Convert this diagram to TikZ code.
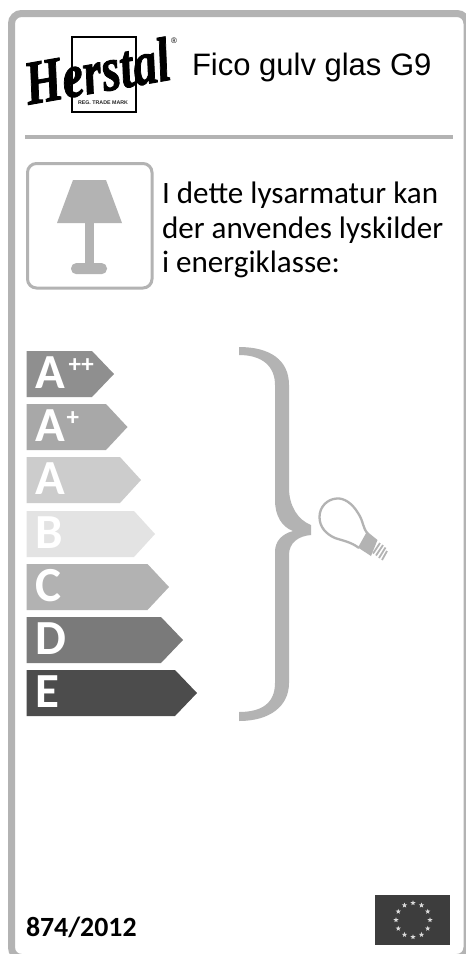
\documentclass[tikz,border=0pt]{standalone}
\usepackage{fontspec}
\usetikzlibrary{shapes.geometric}
\newfontfamily\carl{Carlito}
\newfontfamily\arl{Liberation Sans}
\newfontfamily\logof[FakeBold=1.5]{Liberation Serif}
\definecolor{frameg}{HTML}{B3B3B3}
\tikzset{
 px/.style={x=1pt,y=-1pt},
 greystroke/.style={draw=frameg},
 tag/.style={anchor=base west,inner sep=0pt,outer sep=0pt},
 bodytext/.style={tag,font=\carl\fontsize{31.1}{34}\selectfont,text=black},
 letter/.style={tag,font=\carl\bfseries\fontsize{49}{49}\selectfont,text=white},
 supers/.style={tag,font=\carl\bfseries\fontsize{25}{25}\selectfont,text=white},
 euflagstar/.style={star,star points=5,star point ratio=2.4,fill=black!14,draw=none,inner sep=0pt,minimum size=5.5pt},
}
% #1 name, #2 top, #3 shoulder x, #4 tip x, #5 colour
\newcommand{\classarrow}[5]{%
 \fill[#5] (26.5,#2) -- (#3,#2) -- (#4,#2+23) -- (#3,#2+46) -- (26.5,#2+46) -- cycle;
 \coordinate (#1) at (35.5,#2+37.5);
}
\begin{document}
\begin{tikzpicture}[px]
\useasboundingbox (0,0) rectangle (466,954);
\fill[white] (0,0) rectangle (466,954);
\draw[greystroke,line width=7pt,rounded corners=10pt] (11.5,13.5) rectangle (467,957.5);
% logo
\draw[black,line width=1.5pt] (72,37) rectangle (136,112);
\node[tag,font=\fontsize{5.3}{5.3}\selectfont\arl\bfseries,text=black!85] (reg) at (78,104.5) {REG. TRADE MARK};
\node[inner sep=0pt,rotate=10,text=black,font=\logof\bfseries\itshape\fontsize{48}{48}\selectfont] (herstal) at (97,71) {\scalebox{1}[1.3]{Herstal}};
\node[inner sep=0pt,text=black,font=\arl\fontsize{8}{8}\selectfont] (reg2) at (174,41) {®};
% title
\node[tag,font=\arl\fontsize{31}{33}\selectfont,text=black] (title) at (192,75) {Fico gulv glas G9};
\draw[greystroke,line width=3.6pt] (25,137.2) -- (453,137.2);
% lamp icon
\draw[greystroke,line width=3pt,rounded corners=9pt] (27.5,163.5) rectangle (152,288);
\fill[frameg] (73,180) -- (106,180) -- (122,223) -- (57,223) -- cycle;
\fill[frameg] (85,223) rectangle (94,264);
\fill[frameg,rounded corners=5.4pt] (71,263) rectangle (107,274.2);
\node[bodytext] (l1) at (162,203) {I dette lysarmatur kan};
\node[bodytext] (l2) at (162,238) {der anvendes lyskilder};
\node[bodytext] (l3) at (162,272.5) {i energiklasse:};
% classes
\classarrow{a1}{351}{92}{114}{black!44}
\classarrow{a2}{404}{106}{127.5}{black!34}
\classarrow{a3}{457}{120}{141}{black!20}
\classarrow{a4}{511}{134}{155}{black!11}
\classarrow{a5}{564}{147.5}{169}{black!30}
\classarrow{a6}{617}{161}{183}{black!52}
\classarrow{a7}{670}{175}{197}{black!70}
\node[letter] (tA2) at (a1) {A};
\node[supers] at ([xshift=33pt,yshift=16pt]a1) {++};
\node[letter] (tA1) at (a2) {A};
\node[supers] at ([xshift=31pt,yshift=16pt]a2) {+};
\node[letter] (tA) at (a3) {A};
\node[letter] (tB) at (a4) {B};
\node[letter] (tC) at (a5) {C};
\node[letter] (tD) at (a6) {D};
\node[letter] (tE) at (a7) {E};
% brace
\fill[frameg] (239,347) .. controls (270,347) and (289,360) .. (289,385)
 -- (289,488) .. controls (289,506) and (298,520) .. (311,525)
 -- (311,535) .. controls (298,536) and (289,543) .. (289,555)
 -- (289,683) .. controls (289,706) and (270,721) .. (239,721)
 -- (239,712) .. controls (262,712) and (275,703) .. (275,683)
 -- (275,552) .. controls (275,541) and (282,534) .. (293,531)
 .. controls (282,527) and (275,516) .. (275,500)
 -- (275,385) .. controls (275,366) and (262,355) .. (239,355) -- cycle;
% bulb
\draw[greystroke,line width=2.3pt] (368,534) .. controls (362,527) and (364,522) .. (358,513)
 .. controls (352,503) and (344,498) .. (337,498.5)
 .. controls (327,499) and (319.5,507) .. (319.5,517)
 .. controls (319.5,527) and (326,534) .. (335,538)
 .. controls (344,541) and (351,542) .. (359,548);
\fill[frameg] (367,531.5) -- (377.5,540) -- (371,556) -- (358,547.5) -- cycle;
\begin{scope}[frameg,line width=1.8pt]
\draw (373,553.5) -- (380,543);
\draw (376,555.5) -- (383,545);
\draw (379,558) -- (385.5,547.5);
\draw (382,560) -- (387,551);
\end{scope}
% footer
\node[tag,font=\carl\bfseries\fontsize{27.8}{28}\selectfont,text=black] (reg3) at (26,936) {874/2012};
\fill[black!76] (375,895) rectangle (450,945);
\foreach \a in {0,30,...,330}
 \node[euflagstar] at ({413+17*cos(\a)},{920+17*sin(\a)}) {};
\end{tikzpicture}
\end{document}
